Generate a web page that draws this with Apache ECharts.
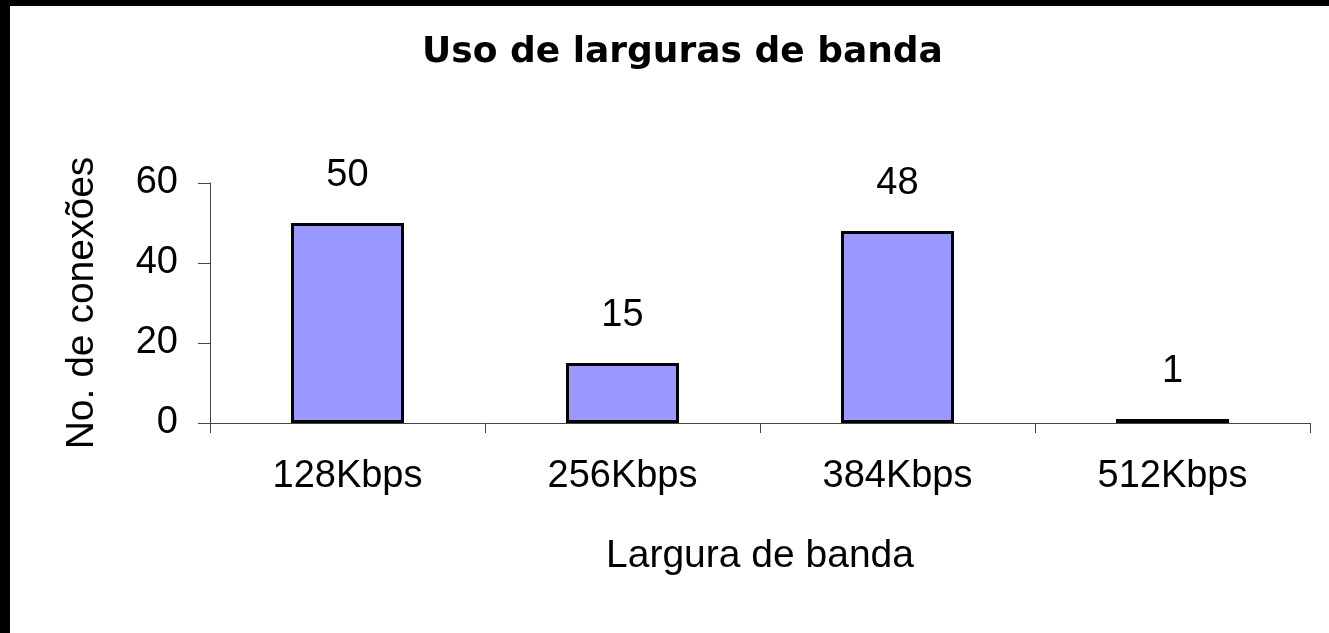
<!DOCTYPE html>
<html>
<head>
<meta charset="utf-8">
<script src="https://cdn.jsdelivr.net/npm/echarts@6/dist/echarts.min.js"></script>
<style>
    html, body { margin: 0; padding: 0; background: #fff; }
    #main {
        width: 1319px;
        height: 627px;
        border-top: 6px solid #000;
        border-left: 10px solid #000;
        background: #fff;
    }
</style>
</head>
<body>
<div id="main"></div>
<script>
var categories = ['128Kbps', '256Kbps', '384Kbps', '512Kbps'];
var connections = [50, 15, 48, 1];
var yTicks = [0, 20, 40, 60];

var font = 'Liberation Sans, Arial, sans-serif';
var myChart = echarts.init(document.getElementById('main'));
var option = {
    animation: false,
    backgroundColor: '#fff',
    title: {
        text: 'Uso de larguras de banda',
        left: 407,
        top: 24,
        textStyle: {
            fontFamily: 'DejaVu Sans, sans-serif',
            fontSize: 36,
            fontWeight: 'bold',
            color: '#000'
        }
    },
    grid: {
        left: 200,
        right: 19,
        top: 177,
        bottom: 210
    },
    xAxis: {
        type: 'category',
        data: categories,
        name: 'Largura de banda',
        nameLocation: 'middle',
        nameGap: 114,
        nameTextStyle: { fontFamily: font, fontSize: 39, color: '#000' },
        axisLine: { lineStyle: { color: '#444', width: 1 } },
        axisTick: { show: true, length: 10, lineStyle: { color: '#444' } },
        axisLabel: { fontFamily: font, fontSize: 38, color: '#000', margin: 35 }
    },
    yAxis: {
        type: 'value',
        min: yTicks[0],
        max: yTicks[yTicks.length - 1],
        interval: yTicks[1] - yTicks[0],
        name: 'No. de conexões',
        nameLocation: 'middle',
        nameGap: 108,
        nameTextStyle: { fontFamily: font, fontSize: 39, color: '#000' },
        axisLine: { show: true, lineStyle: { color: '#444', width: 1 } },
        axisTick: { show: true, length: 12, lineStyle: { color: '#444' } },
        splitLine: { show: false },
        axisLabel: { fontFamily: font, fontSize: 38, color: '#000', margin: 32 }
    },
    series: [
        {
            type: 'bar',
            data: connections,
            barWidth: 113,
            itemStyle: {
                color: '#9999FF',
                borderColor: '#000',
                borderWidth: 3
            },
            label: {
                show: true,
                position: 'top',
                distance: 28,
                fontFamily: font,
                fontSize: 38,
                color: '#000'
            }
        }
    ]
};
myChart.setOption(option);
</script>
</body>
</html>
